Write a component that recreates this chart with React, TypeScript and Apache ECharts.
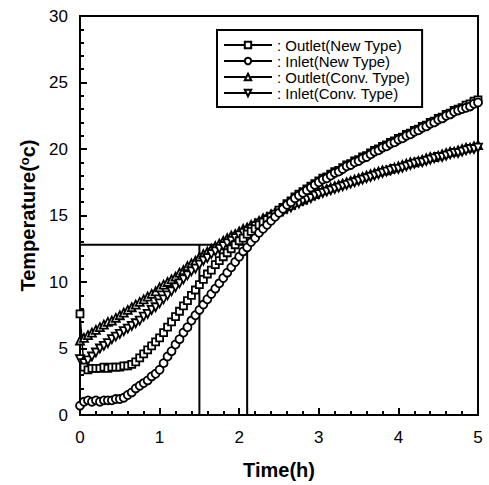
import React, { useEffect, useRef } from "react";
import * as echarts from "echarts";

const TIME = [
  0, 0.05, 0.1, 0.15, 0.2, 0.25, 0.3, 0.35, 0.4, 0.45, 0.5, 0.55, 0.6, 0.65, 0.7, 0.75, 0.8, 0.85, 0.9, 0.95,
  1, 1.05, 1.1, 1.15, 1.2, 1.25, 1.3, 1.35, 1.4, 1.45, 1.5, 1.55, 1.6, 1.65, 1.7, 1.75, 1.8, 1.85, 1.9, 1.95,
  2, 2.05, 2.1, 2.15, 2.2, 2.25, 2.3, 2.35, 2.4, 2.45, 2.5, 2.55, 2.6, 2.65, 2.7, 2.75, 2.8, 2.85, 2.9, 2.95,
  3, 3.05, 3.1, 3.15, 3.2, 3.25, 3.3, 3.35, 3.4, 3.45, 3.5, 3.55, 3.6, 3.65, 3.7, 3.75, 3.8, 3.85, 3.9, 3.95,
  4, 4.05, 4.1, 4.15, 4.2, 4.25, 4.3, 4.35, 4.4, 4.45, 4.5, 4.55, 4.6, 4.65, 4.7, 4.75, 4.8, 4.85, 4.9, 4.95,
  5,
];

const OUTLET_NEW = [
  7.6, 3.6, 3.4, 3.5, 3.5, 3.5, 3.6, 3.5, 3.6, 3.6, 3.6, 3.7, 3.7, 3.8, 4.0, 4.3, 4.6, 4.9, 5.2, 5.5,
  5.8, 6.2, 6.6, 7.0, 7.4, 7.8, 8.2, 8.6, 9.0, 9.4, 9.8, 10.2, 10.6, 10.9, 11.3, 11.6, 11.9, 12.2, 12.5, 12.8,
  13.1, 13.3, 13.6, 13.8, 14.0, 14.3, 14.5, 14.7, 14.9, 15.1, 15.4, 15.6, 15.9, 16.1, 16.4, 16.6, 16.8, 17.0, 17.2, 17.4,
  17.6, 17.8, 17.9, 18.1, 18.3, 18.4, 18.6, 18.8, 18.9, 19.1, 19.2, 19.4, 19.5, 19.7, 19.9, 20.0, 20.2, 20.3, 20.5, 20.6,
  20.8, 20.9, 21.1, 21.2, 21.4, 21.5, 21.7, 21.8, 22.0, 22.1, 22.3, 22.4, 22.6, 22.7, 22.9, 23.0, 23.1, 23.3, 23.4, 23.6,
  23.7,
];

const INLET_NEW = [
  0.7, 1.0, 1.1, 1.0, 1.1, 1.0, 1.1, 1.1, 1.1, 1.2, 1.2, 1.3, 1.5, 1.7, 2.0, 2.2, 2.4, 2.6, 2.9, 3.1,
  3.4, 3.9, 4.4, 4.8, 5.3, 5.7, 6.2, 6.6, 7.1, 7.5, 7.9, 8.3, 8.7, 9.1, 9.5, 9.9, 10.3, 10.7, 11.1, 11.5,
  11.9, 12.3, 12.6, 13.0, 13.3, 13.7, 14.0, 14.3, 14.6, 14.9, 15.2, 15.5, 15.8, 16.0, 16.3, 16.5, 16.7, 16.9, 17.1, 17.3,
  17.5, 17.7, 17.8, 18.0, 18.2, 18.3, 18.5, 18.7, 18.8, 19.0, 19.1, 19.3, 19.4, 19.6, 19.8, 19.9, 20.1, 20.2, 20.4, 20.5,
  20.7, 20.8, 21.0, 21.1, 21.3, 21.4, 21.6, 21.7, 21.9, 22.0, 22.2, 22.3, 22.5, 22.6, 22.8, 22.9, 23.0, 23.1, 23.2, 23.4,
  23.5,
];

const OUTLET_CONV = [
  5.6, 5.8, 6.0, 6.2, 6.4, 6.6, 6.8, 7.0, 7.1, 7.3, 7.5, 7.7, 7.9, 8.1, 8.3, 8.5, 8.7, 8.9, 9.1, 9.3,
  9.6, 9.8, 10.0, 10.2, 10.4, 10.7, 10.9, 11.2, 11.4, 11.6, 11.9, 12.1, 12.3, 12.5, 12.7, 12.9, 13.1, 13.3, 13.5, 13.6,
  13.8, 14.0, 14.1, 14.3, 14.4, 14.6, 14.8, 14.9, 15.1, 15.2, 15.4, 15.5, 15.7, 15.8, 16.0, 16.1, 16.2, 16.4, 16.5, 16.6,
  16.8, 16.9, 17.0, 17.1, 17.2, 17.3, 17.4, 17.5, 17.6, 17.7, 17.8, 17.9, 18.0, 18.1, 18.2, 18.3, 18.4, 18.4, 18.5, 18.6,
  18.7, 18.8, 18.9, 19.0, 19.0, 19.1, 19.2, 19.3, 19.4, 19.4, 19.5, 19.6, 19.7, 19.8, 19.8, 19.9, 20.0, 20.1, 20.1, 20.2,
  20.3,
];

const INLET_CONV = [
  4.2, 3.9, 4.1, 4.4, 4.7, 5.0, 5.2, 5.4, 5.7, 5.9, 6.1, 6.3, 6.5, 6.7, 6.9, 7.1, 7.4, 7.6, 7.9, 8.1,
  8.4, 8.7, 9.0, 9.3, 9.6, 9.9, 10.2, 10.5, 10.8, 11.0, 11.3, 11.6, 11.8, 12.1, 12.3, 12.5, 12.7, 12.9, 13.1, 13.3,
  13.5, 13.7, 13.8, 14.0, 14.2, 14.4, 14.5, 14.7, 14.9, 15.0, 15.2, 15.3, 15.5, 15.6, 15.8, 15.9, 16.1, 16.2, 16.3, 16.5,
  16.6, 16.7, 16.8, 16.9, 17.0, 17.1, 17.2, 17.3, 17.4, 17.5, 17.6, 17.7, 17.8, 17.9, 18.0, 18.1, 18.2, 18.3, 18.4, 18.5,
  18.5, 18.6, 18.7, 18.8, 18.9, 19.0, 19.0, 19.1, 19.2, 19.3, 19.4, 19.4, 19.5, 19.6, 19.7, 19.7, 19.8, 19.9, 20.0, 20.0,
  20.1,
];

const SERIES_NAMES = ["Outlet(New Type)", "Inlet(New Type)", "Outlet(Conv. Type)", "Inlet(Conv. Type)"];

// reference guide lines
const REF_TEMP = 12.8;
const REF_TIME_CONV = 1.5;
const REF_TIME_NEW = 2.1;

const X_TICKS = [0, 1, 2, 3, 4, 5];
const Y_TICKS = [0, 5, 10, 15, 20, 25, 30];

const FONT = "'Liberation Sans', Arial, sans-serif";

export default function App() {
  const ref = useRef<HTMLDivElement>(null);

  useEffect(() => {
    document.body.style.margin = "0";
    if (!ref.current) return;
    const chart = echarts.init(ref.current, undefined, { renderer: "svg" });

    const pair = (vals: number[]) => TIME.map((t, i) => [t, vals[i]]);

    const markerSeries = (name: string, vals: number[], symbol: string, rotate = 0, size = 8) => ({
      name,
      type: "line",
      data: pair(vals),
      symbol,
      symbolSize: size,
      symbolRotate: rotate,
      showAllSymbol: true,
      lineStyle: { color: "#000", width: 1.5 },
      itemStyle: { color: "#fff", borderColor: "#000", borderWidth: 1.8 },
      z: 3,
    });

    chart.setOption({
      animation: false,
      backgroundColor: "#fff",
      textStyle: { fontFamily: FONT, color: "#000" },
      grid: {
        left: 80,
        right: 11,
        top: 16,
        bottom: 68,
        show: true,
        borderColor: "#000",
        borderWidth: 2,
        backgroundColor: "transparent",
      },
      legend: {
        orient: "vertical",
        left: 217,
        top: 30,
        data: SERIES_NAMES,
        formatter: (n: string) => ": " + n,
        backgroundColor: "#fff",
        borderColor: "#000",
        borderWidth: 2,
        padding: [7, 12, 6, 6],
        itemWidth: 48,
        itemHeight: 8,
        itemGap: 0,
        textStyle: { fontFamily: FONT, fontSize: 15, color: "#000", lineHeight: 16 },
        inactiveColor: "#000",
      },
      xAxis: {
        type: "value",
        min: X_TICKS[0],
        max: X_TICKS[X_TICKS.length - 1],
        interval: 1,
        name: "Time(h)",
        nameLocation: "middle",
        nameGap: 45,
        nameTextStyle: { fontFamily: FONT, fontSize: 20, fontWeight: "bold", color: "#000" },
        axisLine: { show: true, lineStyle: { color: "#000", width: 2 } },
        axisTick: { show: true, inside: true, length: 7, lineStyle: { color: "#000", width: 2 } },
        minorTick: { show: true, splitNumber: 5, length: 4, lineStyle: { color: "#000", width: 2 } },
        splitLine: { show: false },
        axisLabel: { fontFamily: FONT, fontSize: 17, color: "#000", margin: 14 },
      },
      yAxis: {
        type: "value",
        min: Y_TICKS[0],
        max: Y_TICKS[Y_TICKS.length - 1],
        interval: 5,
        name: "Temperature({sup|o}c)",
        nameLocation: "middle",
        nameGap: 30,
        nameTextStyle: {
          fontFamily: FONT,
          fontSize: 20,
          fontWeight: "bold",
          color: "#000",
          rich: {
            sup: {
              fontFamily: FONT,
              fontSize: 13,
              fontWeight: "bold",
              color: "#000",
              verticalAlign: "top",
              padding: [0, 0, 8, 0],
            },
          },
        },
        axisLine: { show: true, lineStyle: { color: "#000", width: 2 } },
        axisTick: { show: true, inside: true, length: 7, lineStyle: { color: "#000", width: 2 } },
        minorTick: { show: true, splitNumber: 5, length: 4, lineStyle: { color: "#000", width: 2 } },
        splitLine: { show: false },
        axisLabel: { fontFamily: FONT, fontSize: 17, color: "#000", margin: 12 },
      },
      series: [
        {
          name: "refH",
          type: "line",
          data: [
            [0, REF_TEMP],
            [REF_TIME_NEW, REF_TEMP],
            [REF_TIME_NEW, 0],
          ],
          symbol: "none",
          silent: true,
          lineStyle: { color: "#000", width: 2 },
          z: 2,
        },
        {
          name: "refV",
          type: "line",
          data: [
            [REF_TIME_CONV, REF_TEMP],
            [REF_TIME_CONV, 0],
          ],
          symbol: "none",
          silent: true,
          lineStyle: { color: "#000", width: 2 },
          z: 2,
        },
        markerSeries(SERIES_NAMES[2], OUTLET_CONV, "triangle"),
        markerSeries(SERIES_NAMES[3], INLET_CONV, "triangle", 180),
        markerSeries(SERIES_NAMES[0], OUTLET_NEW, "rect", 0, 7),
        markerSeries(SERIES_NAMES[1], INLET_NEW, "circle", 0, 8),
      ],
    });

    return () => chart.dispose();
  }, []);

  return <div ref={ref} style={{ position: "fixed", left: 0, top: 0, width: 489, height: 485 }} />;
}
